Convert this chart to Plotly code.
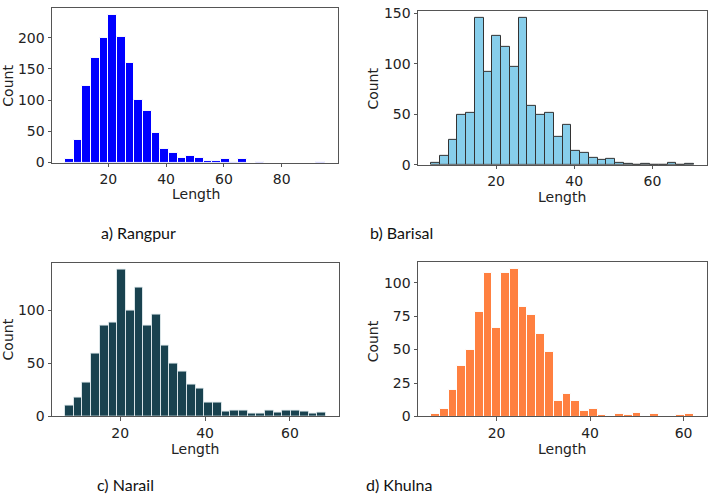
import plotly.graph_objects as go

# ---- data ----
rangpur_counts = [6, 36, 122, 168, 199, 236, 202, 159, 100, 82, 47, 22, 16, 8, 10,
                  7, 3, 3, 5, 1, 6, 0, 1, 0, 0, 0, 0, 0, 0, 1]
rangpur_start, rangpur_width = 5.0, 3.0

barisal_counts = [2, 9, 25, 49, 51, 145, 92, 128, 117, 97, 145, 58, 49, 51, 28,
                  39, 14, 12, 7, 5, 6, 2, 1, 0, 1, 0, 0, 2, 0, 1]
barisal_start, barisal_width = 3.4, 2.24

narail_counts = [10, 18, 32, 59, 86, 88, 138, 100, 121, 86, 96, 67, 50, 42, 30,
                 26, 13, 13, 5, 6, 6, 3, 3, 6, 4, 6, 6, 5, 3, 4]
narail_start, narail_width = 7.0, 2.05

khulna_counts = [2, 6, 20, 38, 50, 78, 107, 66, 107, 110, 82, 76, 62, 48, 12,
                 17, 12, 4, 6, 1, 0, 2, 1, 3, 0, 2, 0, 0, 1, 2]
khulna_start, khulna_width = 6.0, 1.873

captions = ["a) Rangpur", "b) Barisal", "c) Narail", "d) Khulna"]
x_ticks = [[20, 40, 60, 80], [20, 40, 60], [20, 40, 60], [20, 40, 60]]
y_ticks = [[0, 50, 100, 150, 200], [0, 50, 100, 150], [0, 50, 100], [0, 25, 50, 75, 100]]

W, H = 709, 501
panels = [
    dict(counts=rangpur_counts, start=rangpur_start, width=rangpur_width,
         color="#0000FF", edge="white", box=(52, 338, 2, 161)),
    dict(counts=barisal_counts, start=barisal_start, width=barisal_width,
         color="#87CEEB", edge="#333333", box=(418, 707, 5, 163.3)),
    dict(counts=narail_counts, start=narail_start, width=narail_width,
         color="#19424F", edge="rgba(225,235,238,0.9)", box=(52, 339, 264, 422.3)),
    dict(counts=khulna_counts, start=khulna_start, width=khulna_width,
         color="#FF8040", edge="white", box=(418, 707, 263.3, 422.3)),
]
length_pos = [(196, 193), (562, 196), (195, 456), (562, 456)]
count_pos = [(8, 82), (373, 85), (8, 343), (373, 345)]
caption_pos = [(138, 233), (401, 233), (125, 492), (399, 492)]

fig = go.Figure()
tickfont = dict(family="DejaVu Sans", size=14, color="#222222")
annotations = []
for i, p in enumerate(panels):
    n = len(p["counts"])
    centers = [p["start"] + p["width"] * (k + 0.5) for k in range(n)]
    sfx = "" if i == 0 else str(i + 1)
    fig.add_trace(go.Bar(
        x=centers, y=p["counts"], width=[p["width"]] * n,
        marker=dict(color=p["color"], line=dict(color=p["edge"], width=1)),
        xaxis="x" + sfx, yaxis="y" + sfx, showlegend=False,
    ))
    x0, x1, y0, y1 = p["box"]
    lo = p["start"]
    hi = p["start"] + p["width"] * n
    span = hi - lo
    ymax = max(p["counts"]) * 1.05
    common = dict(showline=True, mirror=True, linecolor="#555555", linewidth=1,
                  ticks="outside", ticklen=3.5, tickcolor="#555555", tickwidth=1,
                  showgrid=False, zeroline=False, tickfont=tickfont,
                  ticklabeloverflow="allow")
    fig.layout["xaxis" + sfx] = dict(
        domain=[x0 / W, x1 / W], anchor="y" + sfx,
        range=[lo - 0.05 * span, hi + 0.05 * span],
        tickvals=x_ticks[i], **common)
    fig.layout["yaxis" + sfx] = dict(
        domain=[(H - y1) / H, (H - y0) / H], anchor="x" + sfx,
        range=[0, ymax], tickvals=y_ticks[i], **common)
    lx, ly = length_pos[i]
    annotations.append(dict(x=lx / W, y=(H - ly) / H, xref="paper", yref="paper",
                            text="Length", showarrow=False,
                            font=dict(family="DejaVu Sans", size=14, color="#222222"),
                            xanchor="center", yanchor="middle"))
    cx, cy = count_pos[i]
    annotations.append(dict(x=cx / W, y=(H - cy) / H, xref="paper", yref="paper",
                            text="Count", showarrow=False, textangle=-90,
                            font=dict(family="DejaVu Sans", size=14, color="#222222"),
                            xanchor="center", yanchor="middle"))
    px, py = caption_pos[i]
    annotations.append(dict(x=px / W, y=(H - py) / H, xref="paper", yref="paper",
                            text=captions[i], showarrow=False,
                            font=dict(family="Lato", size=16, color="#111111"),
                            xanchor="center", yanchor="middle"))

fig.update_layout(
    width=W, height=H, margin=dict(l=0, r=0, t=0, b=0),
    paper_bgcolor="white", plot_bgcolor="white", bargap=0,
    annotations=annotations,
)
fig.write_html("out.html")
